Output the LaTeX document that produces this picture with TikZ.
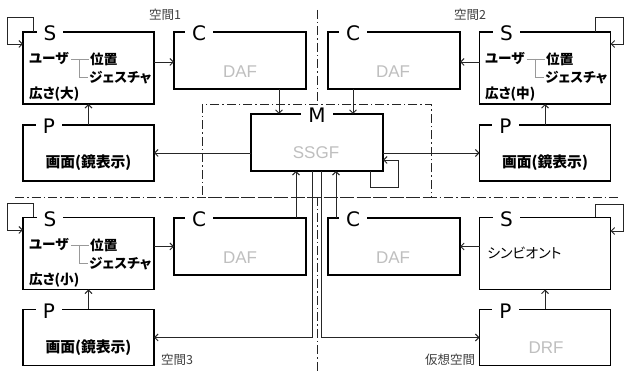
\documentclass[tikz,border=0pt]{standalone}
\usepackage{fontspec}
\setmainfont{DejaVu Sans}
\newfontfamily\jp{Noto Sans CJK JP}[RawFeature={+palt}]
\newfontfamily\ghostfont{Liberation Sans}
\usetikzlibrary{arrows.meta}
\tikzset{
  box/.style={draw=black, line width=1.8pt, inner sep=0pt, outer sep=0pt},
  sbox/.style={box, minimum width=131pt, minimum height=72pt},
  cbox/.style={box, minimum width=132pt, minimum height=57pt},
  pbox/.style={box, minimum width=131pt, minimum height=56pt},
  ttl/.style={fill=white, inner xsep=7pt, inner ysep=0pt, font=\fontsize{20}{20}\selectfont},
  conn/.style={draw=black!85, line width=0.9pt, -{Straight Barb[length=3.5pt,width=7pt]}},
  divider/.style={draw=black!85, line width=0.9pt, dash pattern=on 9pt off 3pt on 1.5pt off 3pt},
  tree/.style={draw=black!40, line width=0.8pt},
  jt/.style={inner sep=0pt, font=\jp\bfseries\fontsize{13.6}{14}\selectfont},
  jg/.style={inner sep=0pt, font=\jp\bfseries\fontsize{14.8}{15}\selectfont},
  jr/.style={inner sep=0pt, font=\jp\fontsize{14}{14}\selectfont},
  ghost/.style={inner sep=0pt, text=black!25, font=\ghostfont\fontsize{17}{17}\selectfont},
  lbl/.style={inner sep=0pt, text=black!75, font=\jp\fontsize{12.5}{12.5}\selectfont},
}
\newcommand\userblock[3]{%
  \begin{scope}[shift={(#1)}]
    \node[jt, anchor=west] (#2u) at (6,27) {ユーザ};
    \node[jt, anchor=west] (#2p) at (67,27) {位置};
    \node[jt, anchor=west] (#2g) at (66,45.5) {ジェスチャ};
    \node[jt, anchor=west] (#2w) at (6,62.5) {広さ(#3)};
    \draw[tree] ([xshift=2pt]#2u.east) -- ([xshift=-1pt]#2p.west);
    \draw[tree] (56,27) |- ([xshift=-1pt]#2g.west);
  \end{scope}}
\begin{document}
\begin{tikzpicture}[x=1pt,y=-1pt]
\useasboundingbox (0,0) rectangle (625,374);
\fill[white] (0,0) rectangle (625,374);
% dividers
\draw[divider] (317,10) -- (317,104);
\draw[divider] (202,104) rectangle (431,197);
\draw[divider] (15,197) -- (618,197);
\draw[divider] (317,197) -- (317,374);
% boxes
\node[sbox] (S1) at (88.5,68) {};
\node[sbox] (S2) at (545,68) {};
\node[sbox] (S3) at (88.5,253.5) {};
\node[sbox] (S4) at (545,253.5) {};
\node[cbox] (C1) at (240,60.5) {};
\node[cbox] (C2) at (394,60.5) {};
\node[cbox] (C3) at (240,246.5) {};
\node[cbox] (C4) at (394,246.5) {};
\node[pbox] (P1) at (88.5,153) {};
\node[pbox] (P2) at (545,153) {};
\node[pbox] (P3) at (88.5,337.5) {};
\node[pbox] (P4) at (545,337.5) {};
\node[cbox] (M) at (317,142.5) {};
% titles
\foreach \b in {S1,S2,S3,S4} \node[ttl] (t\b) at ([xshift=27pt,yshift=-1.5pt]\b.north west) {S};
\foreach \b in {C1,C2,C3,C4} \node[ttl] (t\b) at ([xshift=25pt,yshift=-1.5pt]\b.north west) {C};
\foreach \b in {P1,P2,P3,P4} \node[ttl] (t\b) at ([xshift=26pt,yshift=-1.5pt]\b.north west) {P};
\node[ttl] (tM) at ([yshift=-1.5pt]M.north) {M};
% box contents
\userblock{23,32}{a}{大}
\userblock{479,32}{b}{中}
\userblock{23,218}{c}{小}
\node[jr, anchor=west] (sym) at (487,253) {シンビオント};
\node[ghost] (d1) at (240,72) {DAF};
\node[ghost] (d2) at (393,72) {DAF};
\node[ghost] (d3) at (240,258) {DAF};
\node[ghost] (d4) at (393,258) {DAF};
\node[ghost] (ssgf) at (316,153) {SSGF};
\node[ghost] (drf) at (546,348) {DRF};
\node[jg] (g1) at (88.5,163) {画面(鏡表示)};
\node[jg] (g2) at (545,163) {画面(鏡表示)};
\node[jg] (g3) at (88.5,348) {画面(鏡表示)};
% labels
\node[lbl] (l1) at (165,15) {空間1};
\node[lbl] (l2) at (470,15) {空間2};
\node[lbl] (l3) at (177,360) {空間3};
\node[lbl] (l4) at (450,360) {仮想空間};
% connectors
\draw[conn] (S1.east |- 0,62) -- (C1.west |- 0,62);
\draw[conn] (P1.north) -- (S1.south);
\draw[conn] (C1.south -| 279,0) -- (M.north -| 279,0);
\draw[conn] (M.west |- P1.east) -- (P1.east);
\draw[conn] (S2.west |- 0,62) -- (C2.east |- 0,62);
\draw[conn] (P2.north) -- (S2.south);
\draw[conn] (C2.south -| 353,0) -- (M.north -| 353,0);
\draw[conn] (M.east |- P2.west) -- (P2.west);
\draw[conn] (S3.east |- C3.west) -- (C3.west);
\draw[conn] (P3.north) -- (S3.south);
\draw[conn] (C3.north -| 296,0) -- (M.south -| 296,0);
\draw[conn] (C4.north -| 336,0) -- (M.south -| 336,0);
\draw[conn] (M.south -| 312,0) |- (P3.east);
\draw[conn] (M.south -| 321,0) |- (P4.west);
\draw[conn] (S4.west |- C4.east) -- (C4.east);
\draw[conn] (P4.north) -- (S4.south);
% self loops
\draw[conn] (S1.north -| 33,0) |- (7,17) |- (S1.west |- 0,44);
\draw[conn] (S2.north -| 595,0) |- (623,17) |- (S2.east |- 0,44);
\draw[conn] (S3.north -| 33,0) |- (7,203) |- (S3.west |- 0,230);
\draw[conn] (S4.north -| 595,0) |- (623,204) |- (S4.east |- 0,231);
\draw[conn] (M.south -| 370,0) |- (398,187) |- (M.east |- 0,160);
\end{tikzpicture}
\end{document}
